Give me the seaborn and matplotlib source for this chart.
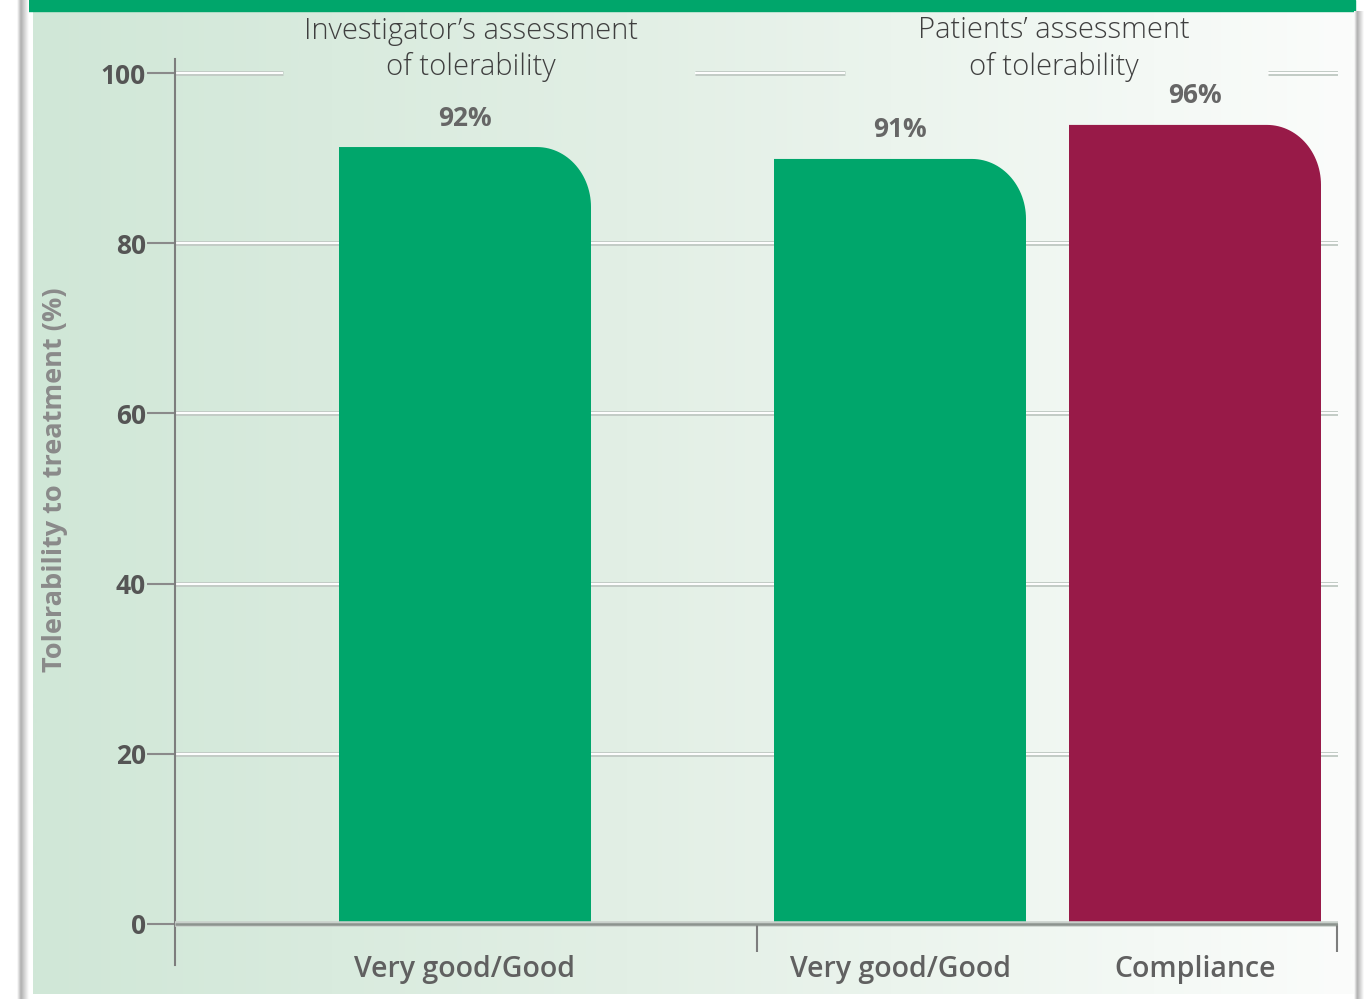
import numpy as np
import pandas as pd
import matplotlib
matplotlib.use("Agg")
import matplotlib.pyplot as plt
import seaborn as sns
from matplotlib.path import Path
from matplotlib.patches import PathPatch, Rectangle
from matplotlib.colors import LinearSegmentedColormap

# ---------------- data ----------------
group_titles = ["Investigator’s assessment\nof tolerability",
                "Patients’ assessment\nof tolerability"]
categories = ["Very good/Good", "Very good/Good", "Compliance"]
bar_group = [0, 1, 1]
measures = ["Tolerability", "Tolerability", "Compliance"]
bar_heights = [91.3, 89.9, 93.9]
pct_labels = ["92%", "91%", "96%"]
y_ticks = [0, 20, 40, 60, 80, 100]
y_label = "Tolerability to treatment (%)"

# ---------------- style / layout ----------------
GREEN = "#00a66b"
MAROON = "#981a48"
W, H, DPI = 1369, 999, 100

sns.set_theme(style="white")
plt.rcParams['font.family'] = ['Open Sans', 'DejaVu Sans']

fig = plt.figure(figsize=(W / DPI, H / DPI), dpi=DPI, facecolor="white")

# background panel (pixel coordinates)
bg = fig.add_axes([0, 0, 1, 1], zorder=0)
grad = np.linspace(0, 1, 512)[None, :]
cmap = LinearSegmentedColormap.from_list(
    "bg", [(0, "#d0e7d7"), (0.45, "#e2efe5"), (0.85, "#f4f9f5"), (1, "#fbfcfb")])
bg.imshow(grad, cmap=cmap, extent=[33, 1355, 994, 11], aspect="auto", zorder=0)
bg.add_patch(Rectangle((24, 0), 1331, 11, color=GREEN, zorder=1))
shadow = LinearSegmentedColormap.from_list("sh", ["#ffffff", "#b0b0b0", "#d8d8d8", "#ffffff"])
bg.imshow(np.linspace(0, 1, 64)[None, :], cmap=shadow, extent=[17, 29, H, 0],
          aspect="auto", zorder=1)
bg.imshow(np.linspace(0, 1, 64)[None, :], cmap=shadow, extent=[1354, 1364, H, 11],
          aspect="auto", zorder=1)
bg.set_xlim(0, W)
bg.set_ylim(H, 0)
bg.axis("off")

# main axes: x in pixel-like units starting at the y axis
PX0, PX1 = 175, 1338
Y0PX, PPU = 924, 8.51
ylim = (-4.8, 101.6)
bottom_px = Y0PX - ylim[0] * PPU
top_px = Y0PX - ylim[1] * PPU
ax = fig.add_axes([PX0 / W, 1 - bottom_px / H, (PX1 - PX0) / W, (bottom_px - top_px) / H],
                  zorder=1)
ax.patch.set_alpha(0)

centers = [290, 725, 1020]
BAR_W = 252
df = pd.DataFrame({"pos": centers, "height": bar_heights, "measure": measures})
sns.barplot(data=df, x="pos", y="height", hue="measure",
            palette={"Tolerability": GREEN, "Compliance": MAROON},
            native_scale=True, dodge=False, legend=False, ax=ax,
            saturation=1, width=0.8, errorbar=None)

ax.set_xlim(0, PX1 - PX0)
ax.set_ylim(*ylim)

# replace bars by rounded-corner versions
RX = 54
RY = 60 / PPU
for p in list(ax.patches):
    h = p.get_height()
    if h <= 0:
        p.remove()
        continue
    cx = p.get_x() + p.get_width() / 2
    fc = p.get_facecolor()
    p.remove()
    x0, x1 = cx - BAR_W / 2, cx + BAR_W / 2
    t = np.linspace(np.pi / 2, 0, 30)
    verts = [(x0, 0), (x0, h), (x1 - RX, h)]
    verts += [(x1 - RX + RX * np.cos(a), h - RY + RY * np.sin(a)) for a in t]
    verts += [(x1, 0), (x0, 0)]
    codes = [Path.MOVETO] + [Path.LINETO] * (len(verts) - 2) + [Path.CLOSEPOLY]
    ax.add_patch(PathPatch(Path(verts, codes), facecolor=fc, edgecolor="none", zorder=3))

# embossed gridlines
def grid_seg(y, xa, xb):
    ax.hlines(y, xa, xb, color="#c3ccc6", lw=3.6, zorder=1)
    ax.hlines(y, xa, xb, color="#ffffff", lw=1.4, zorder=1.5)

for yt in y_ticks[1:-1]:
    grid_seg(yt, 0, PX1 - PX0)
for xa, xb in [(0, 108), (520, 670), (1093, PX1 - PX0)]:
    grid_seg(y_ticks[-1], xa, xb)

# zero line
ax.hlines(0, 0, PX1 - PX0, color="#c9d0cb", lw=4.0, zorder=4)
ax.hlines(0, 0, PX1 - PX0, color="#8c938e", lw=1.8, zorder=4.5)

# group separators below the baseline
ax.vlines([582, 1162], -3.3, 0, color="#7d7d7d", lw=1.5, zorder=4, clip_on=False)

# spines / ticks
for s in ["top", "right", "bottom"]:
    ax.spines[s].set_visible(False)
ax.spines["left"].set_color("#7d7d7d")
ax.spines["left"].set_linewidth(1.5)
ax.set_yticks(y_ticks)
ax.set_yticklabels([str(v) for v in y_ticks])
ax.tick_params(axis="y", left=True, length=20, width=1.5, color="#8a8a8a", pad=1,
               labelsize=19, labelcolor="#555555")
for lab in ax.get_yticklabels():
    lab.set_fontweight("bold")
ax.set_xticks([])
ax.set_xlabel("")
ax.set_ylabel("")

# category labels
for cx, cat in zip(centers, categories):
    ax.text(cx, (Y0PX - 969) / PPU, cat, ha="center", va="center", fontsize=20.5,
            fontweight="semibold", color="#606060", clip_on=False)

# value labels
for cx, h, lab in zip(centers, bar_heights, pct_labels):
    ax.text(cx, h + 29 / PPU, lab, ha="center", va="center", fontsize=19,
            fontweight="bold", color="#666666", clip_on=False)

# group titles
for g, title in enumerate(group_titles):
    gx = np.mean([c for c, b in zip(centers, bar_group) if b == g]) + 6
    ax.text(gx, (Y0PX - 49) / PPU, title, ha="center", va="center", fontsize=21,
            fontweight="light", color="#3f3f3f", linespacing=1.28, clip_on=False)

# y label
fig.text(55 / W, 1 - 480 / H, y_label, rotation=90, ha="center", va="center",
         fontsize=19.5, fontweight="bold", color="#8a8a8a")

fig.savefig("out.png", dpi=DPI, facecolor="white")
